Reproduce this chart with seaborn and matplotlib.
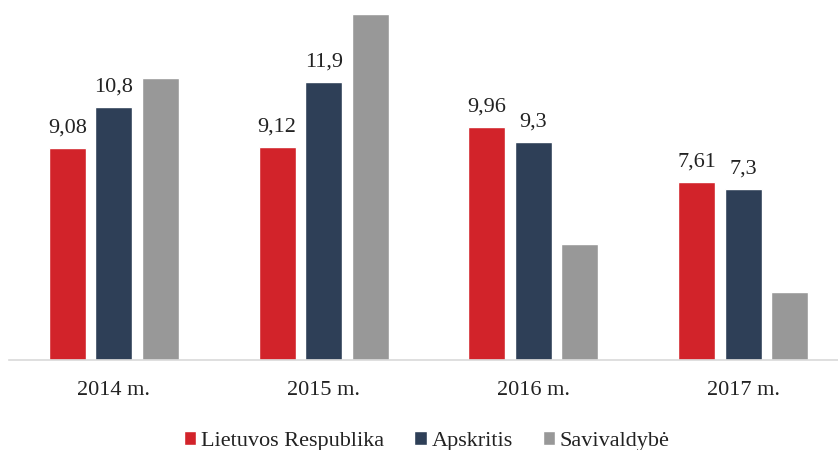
import matplotlib
matplotlib.use("Agg")
import matplotlib.pyplot as plt
import seaborn as sns
import pandas as pd

years = ["2014 m.", "2015 m.", "2016 m.", "2017 m."]
series = ["Lietuvos Respublika", "Apskritis", "Savivaldybė"]
lietuvos = [9.08, 9.12, 9.96, 7.61]
apskritis = [10.8, 11.9, 9.3, 7.3]
savivaldybe = [12.05, 14.8, 4.97, 2.92]
labels_lt = ["9,08", "9,12", "9,96", "7,61"]
labels_ap = ["10,8", "11,9", "9,3", "7,3"]
colors = ["#D2232A", "#2E3F57", "#989898"]

rows = []
for name, vals in zip(series, [lietuvos, apskritis, savivaldybe]):
    for y, v in zip(years, vals):
        rows.append({"year": y, "series": name, "value": v})
df = pd.DataFrame(rows)

sns.set_theme(style="white")
plt.rcParams["font.family"] = ["Liberation Serif", "DejaVu Serif"]

fig = plt.figure(figsize=(8.38, 4.5), dpi=100)
ax = fig.add_axes([9 / 838, 90 / 450, 839 / 838, 360 / 450])
sns.barplot(data=df, x="year", y="value", hue="series", palette=colors,
            width=0.665, gap=0.2, ax=ax, legend=True, saturation=1)

ax.set_ylim(0, 360 / 23.4)
ax.set_xlim(-0.5, 3.5)
ax.set_xlabel("")
ax.set_ylabel("")
ax.set_yticks([])
for s in ["top", "right", "left"]:
    ax.spines[s].set_visible(False)
ax.spines["bottom"].set_color("#D9D9D9")
ax.spines["bottom"].set_linewidth(1.2)
ax.tick_params(axis="x", length=0, pad=15, labelsize=16, labelcolor="#222222")

for cont, labs in zip(ax.containers[:2], [labels_lt, labels_ap]):
    ax.bar_label(cont, labels=labs, padding=7.5, fontsize=16, color="#222222")

leg = ax.legend(loc="center", bbox_to_anchor=(427 / 838, 1 - 441 / 450),
                bbox_transform=fig.transFigure, ncol=3, frameon=False,
                fontsize=16, handlelength=0.55, handleheight=0.55,
                handletextpad=0.22, columnspacing=1.35, labelcolor="#222222")

fig.savefig("out.png", dpi=100)
